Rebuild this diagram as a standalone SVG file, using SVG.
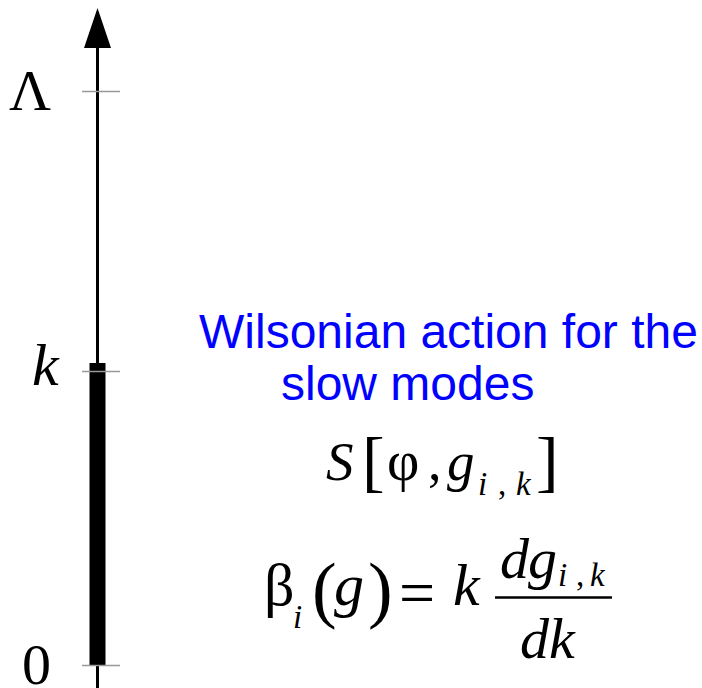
<svg xmlns="http://www.w3.org/2000/svg" width="702" height="688" viewBox="0 0 702 688">
<style>
.m{font-family:"Liberation Serif","Times New Roman",serif;fill:#000}
.i{font-style:italic}
.b{font-family:"Liberation Sans",Arial,sans-serif;fill:#0000ff;font-size:48px}
.tick{stroke:#999;stroke-width:1.5}
</style>
<rect width="702" height="688" fill="#fff"/>
<g id="axis">
<line x1="97.5" y1="45" x2="97.5" y2="688" stroke="#000" stroke-width="3"/>
<polygon points="97.5,8 84,48 111,48" fill="#000"/>
<rect x="89.5" y="363" width="16" height="302" fill="#000"/>
</g>
<g id="ticks">
<line class="tick" x1="82" y1="91.5" x2="120" y2="91.5"/>
<line class="tick" x1="82" y1="371.5" x2="120" y2="371.5"/>
<line class="tick" x1="82" y1="665.5" x2="120" y2="665.5"/>
</g>
<g id="axis-labels">
<text class="m" x="9" y="110" font-size="58">Λ</text>
<text class="m i" x="32" y="385" font-size="60">k</text>
<text class="m" x="22" y="684" font-size="58">0</text>
</g>
<g id="caption">
<text class="b" x="199" y="348">Wilsonian action for the</text>
<text class="b" x="281" y="400">slow modes</text>
</g>
<g id="action">
<text class="m i" x="326" y="480" font-size="55">S</text>
<text class="m" x="362" y="484" font-size="68">[</text>
<text class="m" x="387" y="480" font-size="56">φ</text>
<text class="m" x="428" y="480" font-size="54">,</text>
<text class="m i" x="447" y="480" font-size="55">g</text>
<text class="m i" x="478" y="495" font-size="33">i</text>
<text class="m" x="498" y="495" font-size="33">,</text>
<text class="m i" x="516" y="495" font-size="33">k</text>
<text class="m" x="536" y="484" font-size="68">]</text>
</g>
<g id="beta">
<text class="m" x="264" y="605" font-size="60">β</text>
<text class="m i" x="293" y="628" font-size="33">i</text>
<text class="m" x="312" y="614" font-size="74">(</text>
<text class="m i" x="334" y="605" font-size="60">g</text>
<text class="m" x="368" y="614" font-size="74">)</text>
<text class="m" x="399" y="614" font-size="64">=</text>
<text class="m i" x="453" y="605" font-size="60">k</text>
<text class="m i" x="500" y="578" font-size="58">d</text>
<text class="m i" x="528" y="578" font-size="58">g</text>
<text class="m i" x="558" y="586" font-size="33">i</text>
<text class="m" x="576" y="586" font-size="33">,</text>
<text class="m i" x="590" y="586" font-size="33">k</text>
<line x1="495" y1="597.5" x2="612" y2="597.5" stroke="#000" stroke-width="2.5"/>
<text class="m i" x="520" y="658" font-size="58">dk</text>
</g>
</svg>
